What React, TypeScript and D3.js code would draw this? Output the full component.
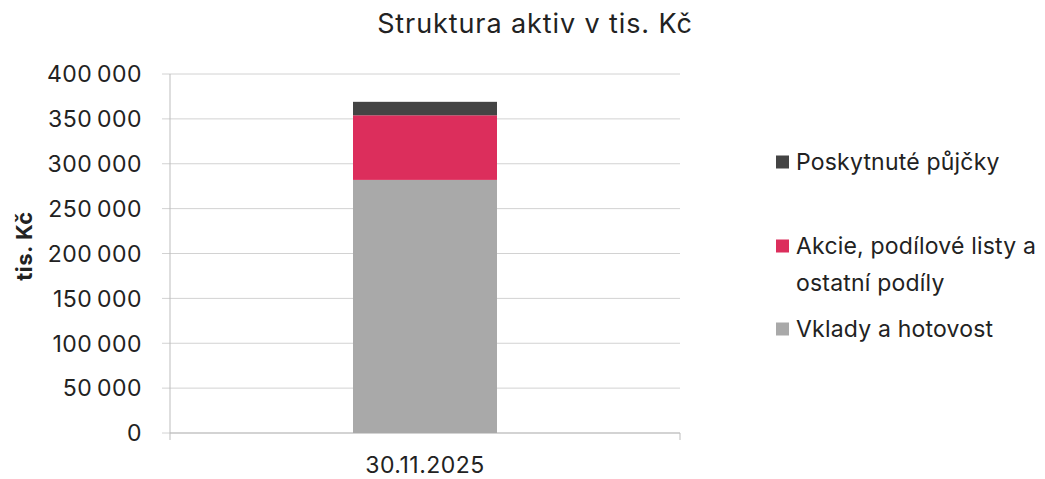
import React from "react";
import * as d3 from "d3";

const categories = ["30.11.2025"];
const seriesNames = ["Vklady a hotovost", "Akcie, podílové listy a ostatní podíly", "Poskytnuté půjčky"];
const vklady = [282000];
const akcie = [72000];
const pujcky = [15000];
const yTicks = [0, 50000, 100000, 150000, 200000, 250000, 300000, 350000, 400000];
const colors = ["#a9a9a9", "#dc2e5c", "#444444"];

const legendItems = [
  { name: "Poskytnuté půjčky", lines: ["Poskytnuté půjčky"], color: 2, y: 162 },
  { name: "Akcie, podílové listy a ostatní podíly", lines: ["Akcie, podílové listy a", "ostatní podíly"], color: 1, y: 246 },
  { name: "Vklady a hotovost", lines: ["Vklady a hotovost"], color: 0, y: 329 },
];

export default function App() {
  const W = 1045, H = 479;
  const left = 170, right = 680, top = 74, bottom = 433;
  const y = d3.scaleLinear().domain([0, 400000]).range([bottom, top]);
  const x = d3.scaleBand().domain(categories).range([left, right]).paddingInner(0.4).paddingOuter(0.7625);
  const data = categories.map((c, i) => ({ cat: c, s0: vklady[i], s1: akcie[i], s2: pujcky[i] }));
  const stack = d3.stack<any>().keys(["s0", "s1", "s2"])(data);
  const fmt = (v: number) => d3.format(",")(v).replace(/,/g, "\u2009");
  const font = "Inter, 'Noto Sans', sans-serif";
  const txt = "#222";
  return (
    <svg width={W} height={H} style={{ position: "absolute", left: 0, top: 0, background: "#fff" }} fontFamily={font}>
      <text x={535} y={33} textAnchor="middle" fontSize={27} letterSpacing={0.9} fill={txt}>Struktura aktiv v tis. Kč</text>
      {yTicks.map((t) => (
        <g key={t}>
          <line x1={162} x2={right} y1={y(t)} y2={y(t)} stroke="#d2d2d2" strokeWidth={1} />
          <text x={142} y={y(t)} dy="0.36em" textAnchor="end" fontSize={23} letterSpacing={0.5} fill={txt}>{fmt(t)}</text>
        </g>
      ))}
      <line x1={left} x2={left} y1={top} y2={bottom + 7} stroke="#bdbdbd" />
      <line x1={left} x2={right} y1={bottom} y2={bottom} stroke="#bdbdbd" />
      <line x1={right} x2={right} y1={bottom} y2={bottom + 7} stroke="#bdbdbd" />
      {stack.map((layer, si) =>
        layer.map((d, i) => (
          <rect key={si + "-" + i} x={x(categories[i])} width={x.bandwidth()} y={y(d[1])} height={y(d[0]) - y(d[1])} fill={colors[si]} />
        ))
      )}
      {categories.map((c) => (
        <text key={c} x={(x(c) as number) + x.bandwidth() / 2} y={473} textAnchor="middle" fontSize={23} letterSpacing={0.5} fill={txt}>{c}</text>
      ))}
      <text transform={`translate(32,246) rotate(-90)`} textAnchor="middle" fontSize={22} fontWeight="bold" letterSpacing={0.5} fill={txt}>tis. Kč</text>
      {legendItems.map((l) => (
        <g key={l.name}>
          <rect x={776} y={l.y - 6.5} width={13} height={13} fill={colors[l.color]} />
          {l.lines.map((ln, j) => (
            <text key={j} x={796} y={l.y + j * 37} dy="0.36em" fontSize={23} letterSpacing={0.2} fill={txt}>{ln}</text>
          ))}
        </g>
      ))}
    </svg>
  );
}
